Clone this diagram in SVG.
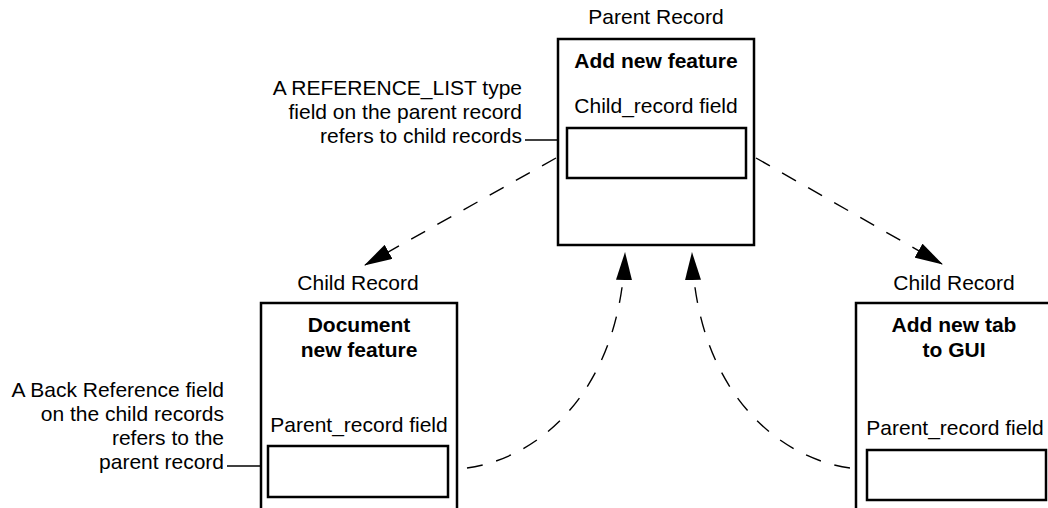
<svg xmlns="http://www.w3.org/2000/svg" width="1048" height="508" viewBox="0 0 1048 508">
  <style>
    .bg { fill: #ffffff; }
    .box { fill: #ffffff; stroke: #000000; stroke-width: 2.5; }
    .field { fill: #ffffff; stroke: #000000; stroke-width: 2.5; }
    .lbl { font-family: "Liberation Sans", Arial, sans-serif; font-size: 21px; fill: #000000; }
    .ttl { font-family: "Liberation Sans", Arial, sans-serif; font-size: 21px; font-weight: bold; fill: #000000; }
    .mid { text-anchor: middle; }
    .end { text-anchor: end; }
    .leader { fill: none; stroke: #000000; stroke-width: 1.6; }
    .link { fill: none; stroke: #000000; stroke-width: 1.4; stroke-dasharray: 16 14; }
  </style>
  <defs>
    <marker id="arrow" viewBox="0 0 28 16" refX="27" refY="8" markerWidth="28" markerHeight="16" markerUnits="userSpaceOnUse" orient="auto">
      <path d="M0,0 L28,8 L0,16 Z" fill="#000000"/>
    </marker>
  </defs>

  <rect class="bg" x="0" y="0" width="1048" height="508"/>

  <!-- Parent record -->
  <g id="parent-record">
    <text class="lbl mid" x="656" y="24">Parent Record</text>
    <rect class="box" x="558" y="39" width="196" height="206"/>
    <text class="ttl mid" x="656" y="68">Add new feature</text>
    <text class="lbl mid" x="656" y="113">Child_record field</text>
    <rect class="field" x="567" y="128" width="179" height="50"/>
  </g>

  <!-- Child record: documentation -->
  <g id="child-document">
    <text class="lbl mid" x="358" y="290">Child Record</text>
    <rect class="box" x="261" y="303" width="196" height="220"/>
    <text class="ttl mid" x="359" y="332">Document</text>
    <text class="ttl mid" x="359" y="357">new feature</text>
    <text class="lbl mid" x="359" y="432">Parent_record field</text>
    <rect class="field" x="268" y="446" width="180" height="51"/>
  </g>

  <!-- Child record: GUI tab -->
  <g id="child-gui">
    <text class="lbl mid" x="954" y="290">Child Record</text>
    <rect class="box" x="856" y="303" width="196" height="220"/>
    <text class="ttl mid" x="954" y="332">Add new tab</text>
    <text class="ttl mid" x="954" y="357">to GUI</text>
    <text class="lbl mid" x="955" y="435">Parent_record field</text>
    <rect class="field" x="867" y="450" width="179" height="50"/>
  </g>

  <!-- Annotation for the reference list field -->
  <g id="note-reference-list">
    <text class="lbl end" x="522" y="95">A REFERENCE_LIST type</text>
    <text class="lbl end" x="522" y="119">field on the parent record</text>
    <text class="lbl end" x="522" y="143">refers to child records</text>
    <line class="leader" x1="525" y1="140" x2="558" y2="140"/>
  </g>

  <!-- Annotation for the back reference field -->
  <g id="note-back-reference">
    <text class="lbl end" x="224" y="397">A Back Reference field</text>
    <text class="lbl end" x="224" y="421">on the child records</text>
    <text class="lbl end" x="224" y="445">refers to the</text>
    <text class="lbl end" x="224" y="469">parent record</text>
    <line class="leader" x1="227" y1="466" x2="261" y2="466"/>
  </g>

  <!-- Connectors -->
  <g id="connectors">
    <path class="link" d="M556,158 L365,265" marker-end="url(#arrow)"/>
    <path class="link" d="M756,158 L942,264" marker-end="url(#arrow)"/>
    <path class="link" d="M467,468 C540,458 620,390 625,253" marker-end="url(#arrow)"/>
    <path class="link" d="M850,468 C777,458 697,390 692,253" marker-end="url(#arrow)"/>
  </g>
</svg>
